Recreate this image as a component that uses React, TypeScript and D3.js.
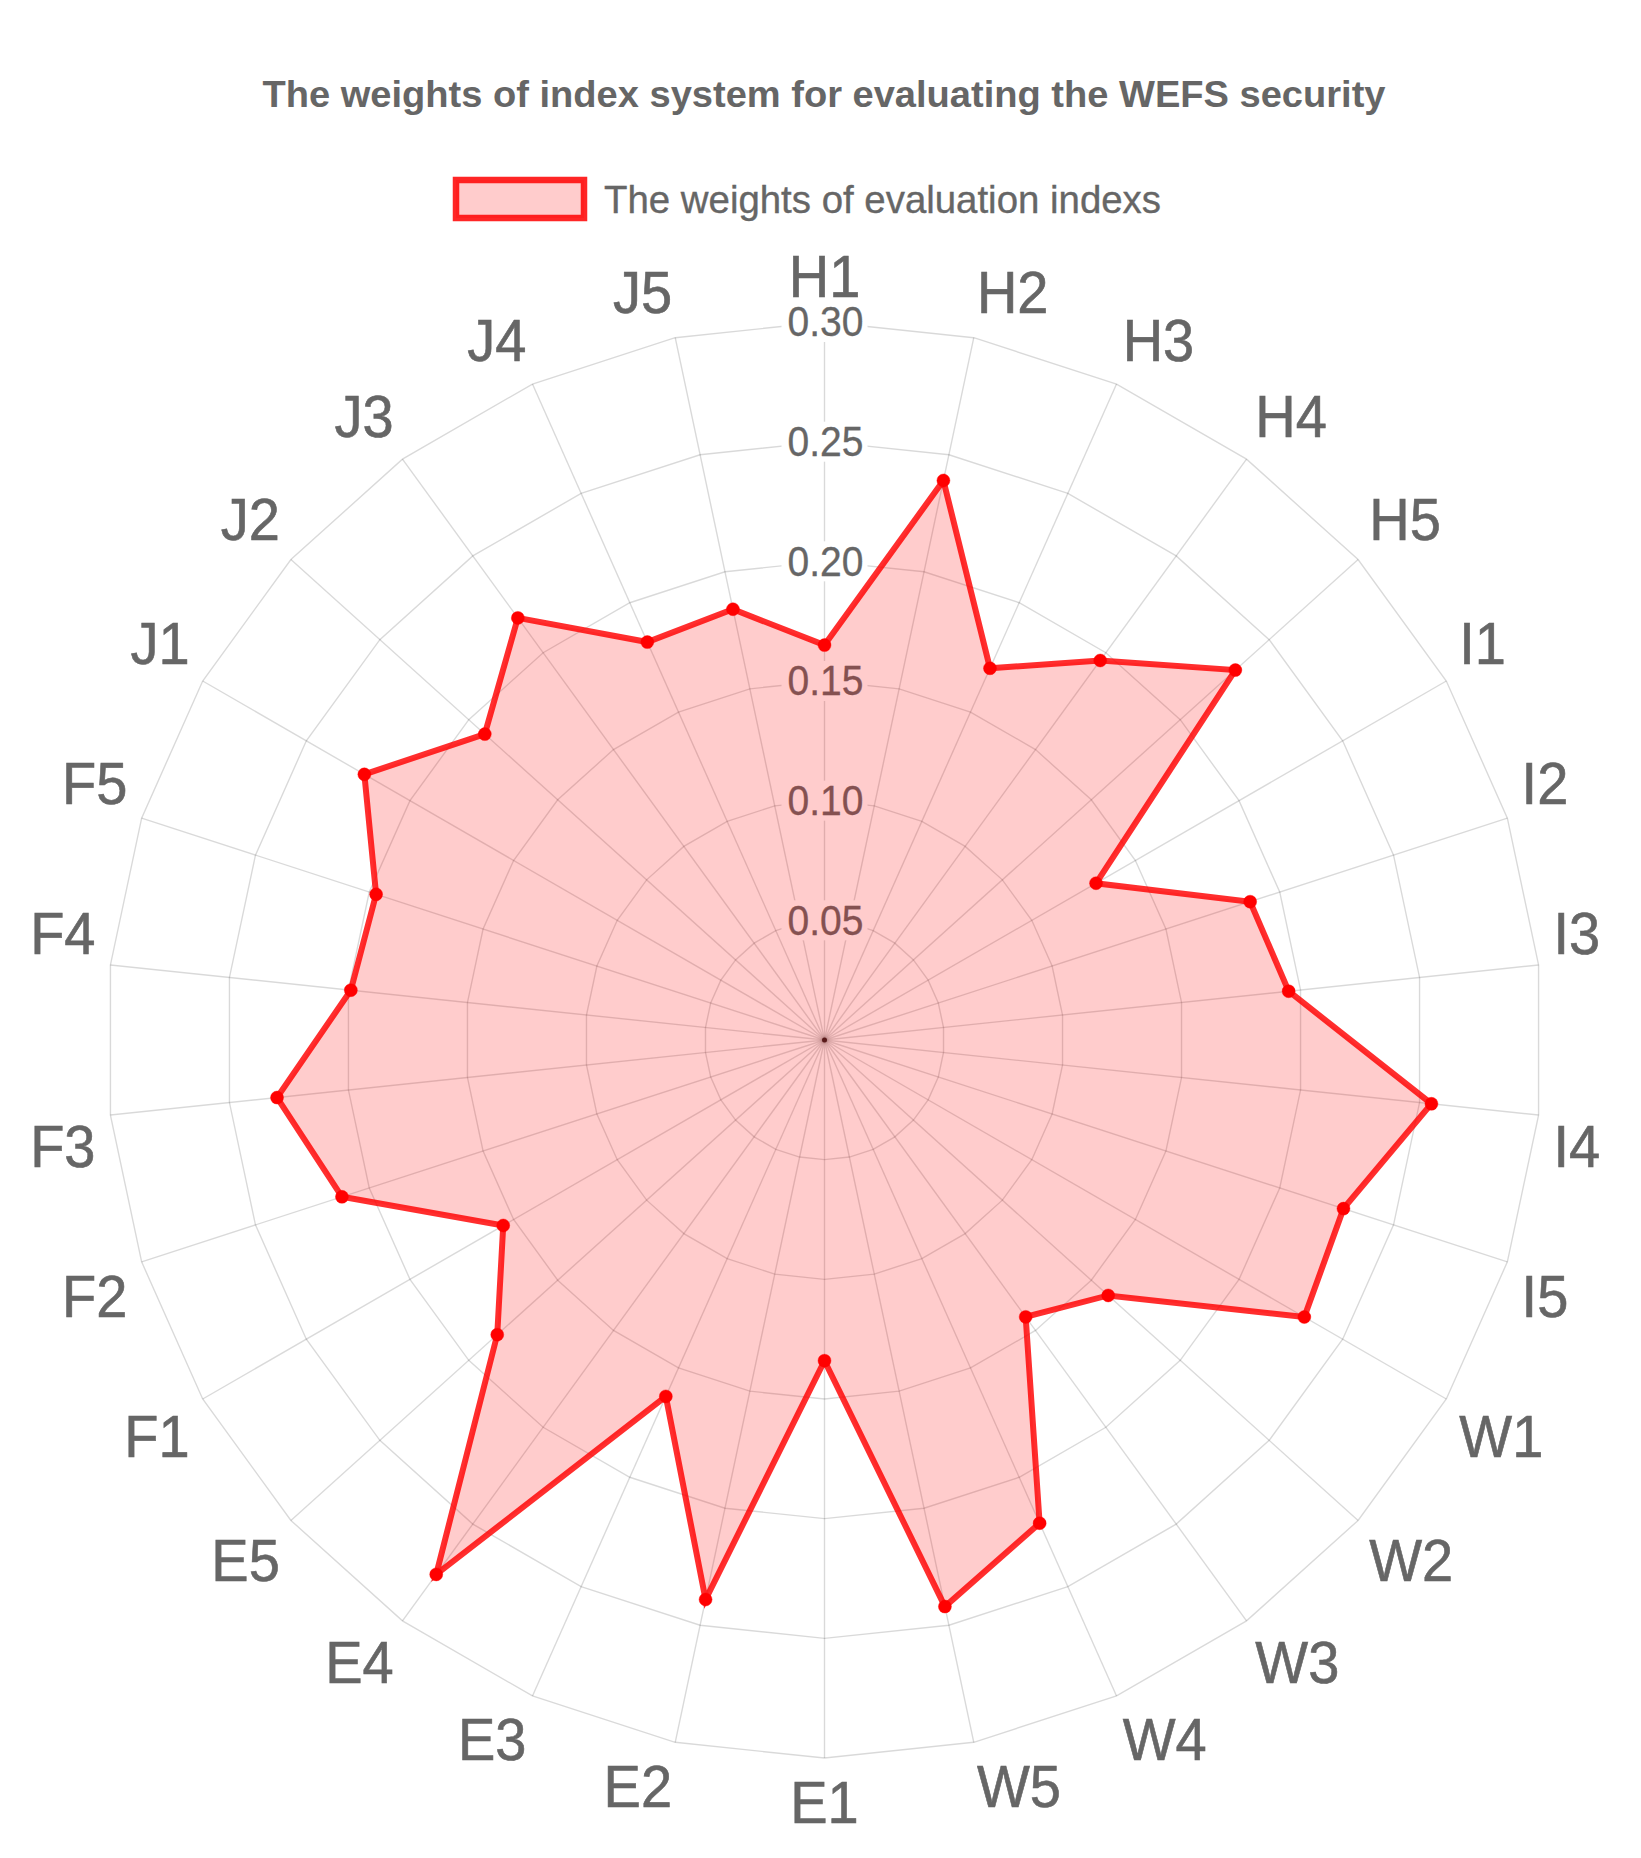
import React from "react";
import * as d3 from "d3";

const labels = [
  "H1","H2","H3","H4","H5",
  "I1","I2","I3","I4","I5",
  "W1","W2","W3","W4","W5",
  "E1","E2","E3","E4","E5",
  "F1","F2","F3","F4","F5",
  "J1","J2","J3","J4","J5",
];
const weights = [
  0.165, 0.239, 0.170, 0.196, 0.231,
  0.131, 0.187, 0.195, 0.255, 0.228,
  0.2315, 0.1595, 0.143, 0.221, 0.242,
  0.134, 0.239, 0.163, 0.276, 0.184,
  0.155, 0.212, 0.230, 0.199, 0.197,
  0.222, 0.191, 0.218, 0.182, 0.184,
];
const tickValues = [0.05, 0.10, 0.15, 0.20, 0.25, 0.30];
const titleText = "The weights of index system for evaluating the WEFS security";
const legendText = "The weights of evaluation indexs";

const W = 1641, H = 1858;
const cx = 824.5, cy = 1040, R = 718;
const FONT = "'Liberation Sans', Arial, Helvetica, sans-serif";

export default function App() {
  const r = d3.scaleLinear().domain([0, 0.3]).range([0, R]);
  const n = labels.length;
  const ang = (i: number) => (i * 2 * Math.PI) / n;
  const pt = (i: number, rad: number): [number, number] => [
    cx + rad * Math.sin(ang(i)),
    cy - rad * Math.cos(ang(i)),
  ];
  const ringPath = (v: number) =>
    labels.map((_, i) => pt(i, r(v))).map((p, i) => `${i ? "L" : "M"}${p[0]},${p[1]}`).join("") + "Z";

  const line = d3.line<number>()
    .x((d, i) => pt(i, r(d))[0])
    .y((d, i) => pt(i, r(d))[1])
    .curve(d3.curveLinearClosed);

  const grid = "rgba(0,0,0,0.15)";
  const pad = 15, half = 30;

  return (
    <svg width={W} height={H} style={{ position: "absolute", left: 0, top: 0, background: "#fff" }}>
      {/* title */}
      <text transform={`translate(${824},${107}) scale(1,1.18)`} textAnchor="middle"
        fontFamily={FONT} fontWeight="bold" fontSize={31} fill="#666"
        textLength={1123} lengthAdjust="spacingAndGlyphs">{titleText}</text>
      {/* legend */}
      <rect x={456} y={180} width={128} height={38} fill="rgba(255,0,0,0.2)" stroke="rgba(255,0,0,0.85)" strokeWidth={6.5} />
      <text transform={`translate(${604},${213}) scale(1,1.15)`} fontFamily={FONT} fontSize={33} fill="#666"
        stroke="#666" strokeWidth={0.3}
        textLength={557} lengthAdjust="spacingAndGlyphs">{legendText}</text>

      {/* rings */}
      {tickValues.map((v) => (
        <path key={v} d={ringPath(v)} fill="none" stroke={grid} strokeWidth={1.4} />
      ))}
      {/* angle lines */}
      {labels.map((_, i) => {
        const p = pt(i, R);
        return <line key={i} x1={cx} y1={cy} x2={p[0]} y2={p[1]} stroke={grid} strokeWidth={1.4} />;
      })}
      {/* tick labels */}
      {tickValues.map((v) => {
        const y = cy - r(v);
        return (
          <g key={v}>
            <rect x={cx - 43} y={y - 20} width={86} height={40} fill="#fff" />
            <text transform={`translate(${cx + 1},${y}) scale(1,1.07)`} textAnchor="middle" dominantBaseline="central"
              fontFamily={FONT} fontSize={39} fill="#666" stroke="#666" strokeWidth={0.3}>{v.toFixed(2)}</text>
          </g>
        );
      })}
      {/* point labels */}
      {labels.map((lab, i) => {
        const deg = (i * 360) / n;
        const [x, y] = pt(i, R + pad);
        const anchor = deg === 0 || deg === 180 ? "middle" : deg < 180 ? "start" : "end";
        let yc = y;
        if (deg === 90 || deg === 270) yc = y;
        else if (deg < 90 || deg > 270) yc = y - half;
        else yc = y + half;
        return (
          <text key={lab} transform={`translate(${x},${yc}) scale(1,1.05)`} textAnchor={anchor}
            dominantBaseline="central" fontFamily={FONT} fontSize={56} fill="#666"
            stroke="#666" strokeWidth={0.6}>{lab}</text>
        );
      })}

      {/* dataset */}
      <path d={line(weights) || ""} fill="rgba(255,0,0,0.2)" stroke="rgba(255,0,0,0.82)" strokeWidth={6} strokeLinejoin="miter" />
      {weights.map((v, i) => {
        const [x, y] = pt(i, r(v));
        return <circle key={i} cx={x} cy={y} r={6.5} fill="#ff0000" stroke="rgba(255,0,0,0.4)" strokeWidth={1} />;
      })}
      <circle cx={cx} cy={cy} r={2.5} fill="#5a1a1a" />
    </svg>
  );
}
